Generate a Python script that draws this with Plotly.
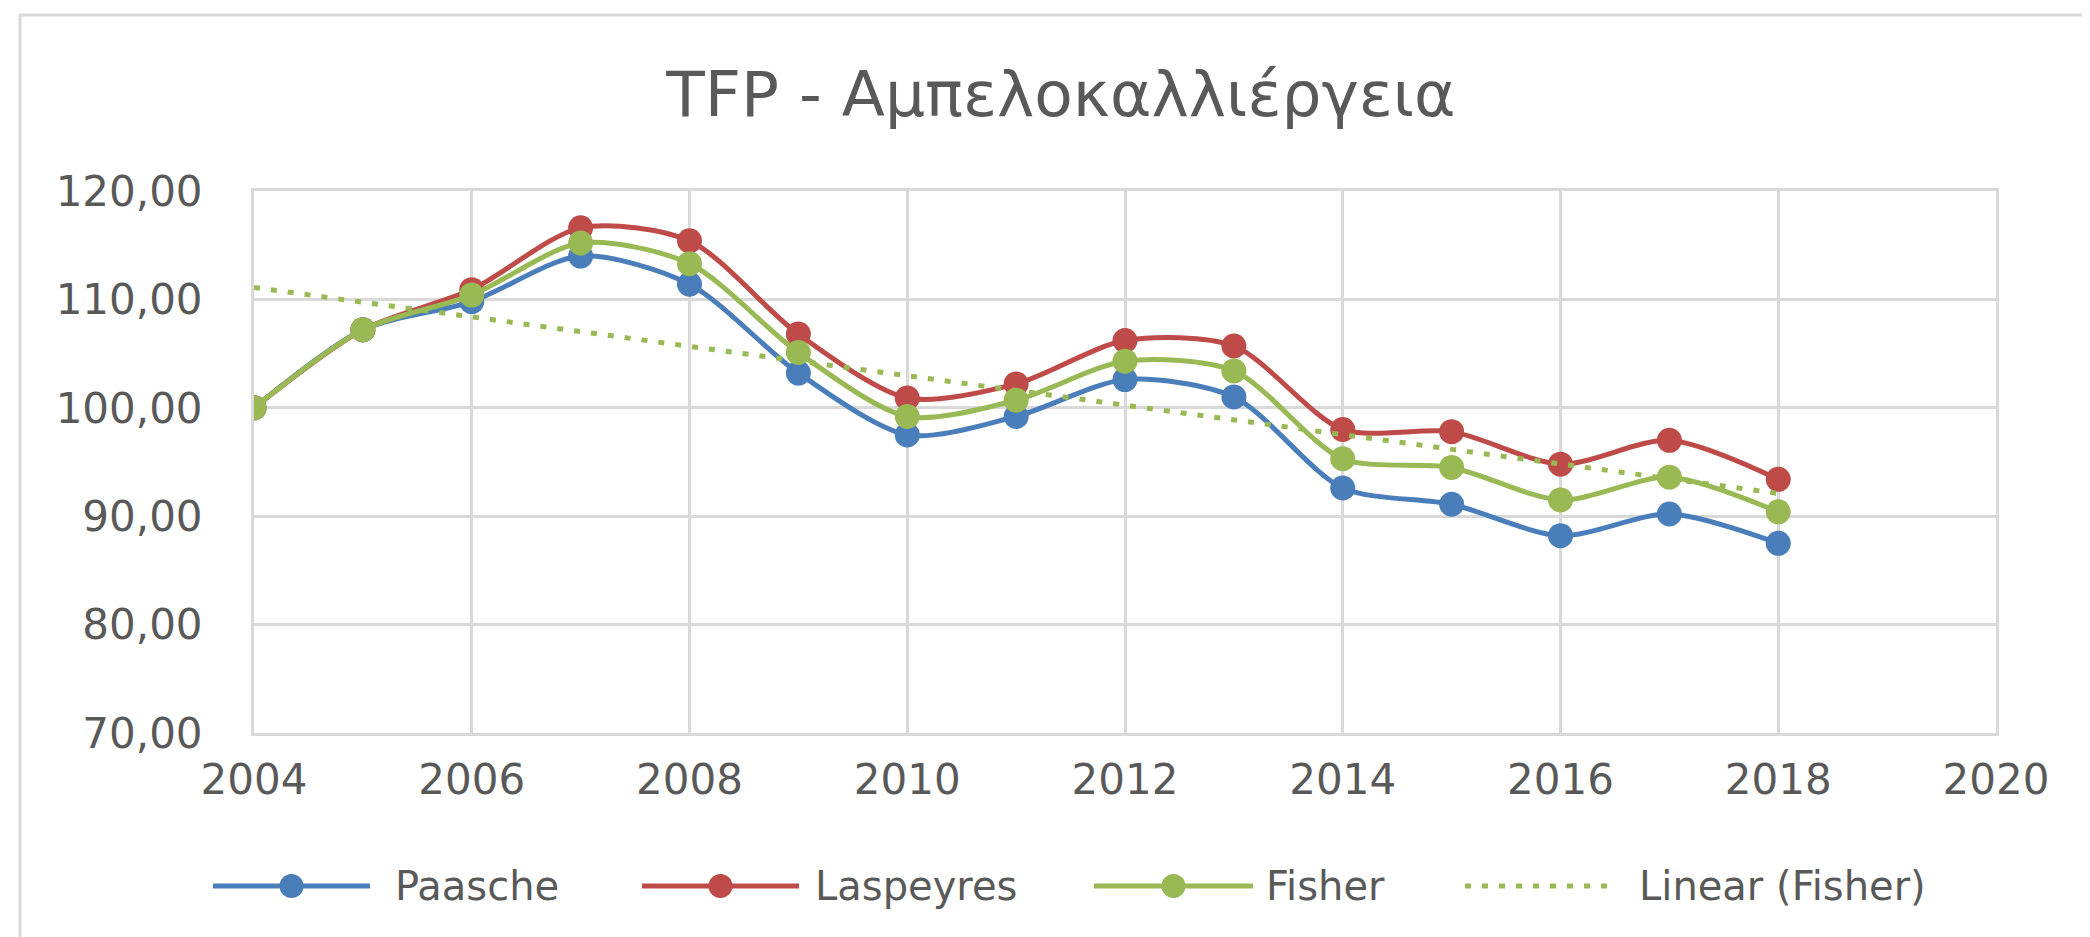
import plotly.graph_objects as go

years = [2004, 2005, 2006, 2007, 2008, 2009, 2010, 2011, 2012, 2013, 2014, 2015, 2016, 2017, 2018]
paasche = [100.0, 107.2, 109.8, 114.0, 111.4, 103.2, 97.5, 99.2, 102.6, 101.0, 92.6, 91.1, 88.2, 90.2, 87.5]
laspeyres = [100.0, 107.2, 110.9, 116.6, 115.4, 106.8, 100.9, 102.2, 106.2, 105.7, 98.0, 97.8, 94.8, 97.0, 93.4]
fisher = [100.0, 107.2, 110.4, 115.2, 113.3, 105.1, 99.2, 100.7, 104.3, 103.4, 95.3, 94.5, 91.5, 93.6, 90.4]
trend_years = [2004, 2018]
trend_values = [111.1, 92.1]

title_text = "TFP - Αμπελοκαλλιέργεια"
series_names = ["Paasche", "Laspeyres", "Fisher", "Linear (Fisher)"]
x_ticks = [2004, 2006, 2008, 2010, 2012, 2014, 2016, 2018, 2020]
y_ticks = [70, 80, 90, 100, 110, 120]

BLUE = "#4A7EBB"
RED = "#BE4B48"
GREEN = "#98B954"
GRID = "#D9D9D9"
TEXT = "#595959"
FONT = "DejaVu Sans, Verdana, sans-serif"
TREND_DASH = "6px,11px"

L, R, T, B = 246, 102, 183, 212
W, H = 2090, 937
pw, ph = W - L - R, H - T - B


def px_x(px):
    return (px - L) / pw


def px_y(py):
    return (T + ph - py) / ph


fig = go.Figure()
for name, vals, col in [(series_names[0], paasche, BLUE), (series_names[1], laspeyres, RED),
                        (series_names[2], fisher, GREEN)]:
    fig.add_trace(go.Scatter(
        x=years, y=vals, name=name, mode="lines+markers",
        line=dict(color=col, width=5, shape="spline", smoothing=0.8),
        marker=dict(color=col, size=25, symbol="circle"),
    ))
fig.add_trace(go.Scatter(
    x=trend_years, y=trend_values, name=series_names[3], mode="lines",
    line=dict(color=GREEN, width=5, dash=TREND_DASH),
))

# custom legend (long symbol lines as in the reference)
legend_y = 878
legend_items = [
    (series_names[0], BLUE, True, 205, 362, 385),
    (series_names[1], RED, True, 634, 791, 805),
    (series_names[2], GREEN, True, 1086, 1245, 1256),
    (series_names[3], GREEN, False, 1457, 1602, 1629),
]
shapes = [dict(type="rect", xref="paper", yref="paper",
               x0=px_x(12), x1=px_x(2084), y0=px_y(933), y1=px_y(7),
               line=dict(color=GRID, width=3), fillcolor="rgba(0,0,0,0)", layer="below")]
annotations = []
for name, col, has_marker, x0, x1, tx in legend_items:
    shapes.append(dict(type="line", xref="paper", yref="paper",
                       x0=px_x(x0), x1=px_x(x1), y0=px_y(legend_y), y1=px_y(legend_y),
                       line=dict(color=col, width=5, dash="solid" if has_marker else TREND_DASH)))
    if has_marker:
        cx = (x0 + x1) / 2
        r = 12
        shapes.append(dict(type="circle", xref="paper", yref="paper",
                           x0=px_x(cx - r), x1=px_x(cx + r), y0=px_y(legend_y + r), y1=px_y(legend_y - r),
                           line=dict(color=col, width=0), fillcolor=col))
    annotations.append(dict(text=name, xref="paper", yref="paper", x=px_x(tx), y=px_y(legend_y),
                            xanchor="left", yanchor="middle", showarrow=False,
                            font=dict(family=FONT, size=40, color=TEXT)))

fig.update_layout(
    width=W, height=H,
    margin=dict(l=L, r=R, t=T, b=B),
    paper_bgcolor="white", plot_bgcolor="white",
    separators=", ",
    title=dict(text=title_text, x=1053 / W, xanchor="center",
               y=1 - 86 / H, yanchor="middle", yref="container", xref="container",
               font=dict(family=FONT, size=63, color=TEXT)),
    showlegend=False,
    shapes=shapes,
    annotations=annotations,
)
fig.update_xaxes(range=[2004, 2020], tickvals=x_ticks, showgrid=True, gridcolor=GRID, gridwidth=3,
                 showline=True, linecolor=GRID, linewidth=3, mirror=True, zeroline=False,
                 tickfont=dict(family=FONT, size=42, color=TEXT), ticklabelstandoff=8)
fig.update_yaxes(range=[70, 120], tickvals=y_ticks, tickformat=".2f", showgrid=True, gridcolor=GRID,
                 gridwidth=3, showline=True, linecolor=GRID, linewidth=3, mirror=True, zeroline=False,
                 tickfont=dict(family=FONT, size=42, color=TEXT), ticklabelstandoff=40)

fig.write_html("out.html")
